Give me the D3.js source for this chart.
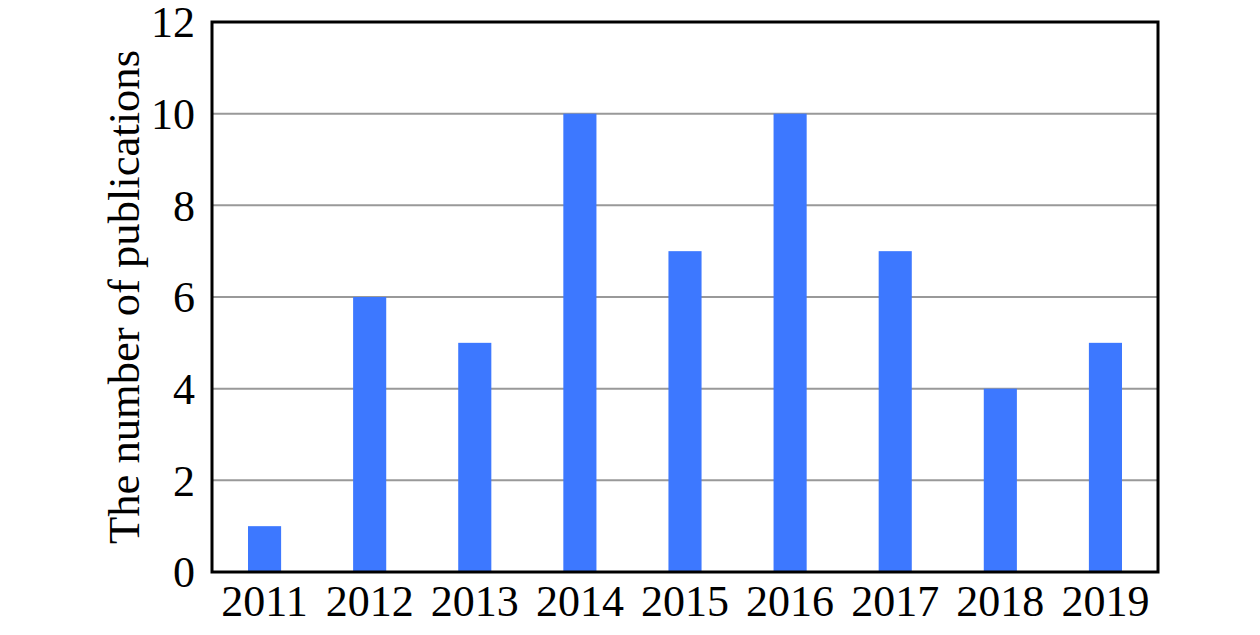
<!DOCTYPE html>
<html>
<head>
<meta charset="utf-8">
<script src="https://cdn.jsdelivr.net/npm/d3@7"></script>
<style>
  body { margin: 0; background: #fff; }
  text { font-family: "Liberation Serif", "Times New Roman", serif; fill: #000; }
</style>
</head>
<body>
<svg id="chart" width="1260" height="635"></svg>
<script>
const YEARS = ['2011', '2012', '2013', '2014', '2015', '2016', '2017', '2018', '2019'];
const COUNTS = [1, 6, 5, 10, 7, 10, 7, 4, 5];
const Y_TICKS = [0, 2, 4, 6, 8, 10, 12];

const margin = { top: 22, right: 102, bottom: 63, left: 212 };
const width = 1260;
const height = 635;
const innerW = width - margin.left - margin.right;
const innerH = height - margin.top - margin.bottom;
const FONT = 44;

const svg = d3.select('#chart');
const g = svg.append('g').attr('transform', `translate(${margin.left},${margin.top})`);

const x = d3.scaleBand()
  .domain(YEARS)
  .range([0, innerW])
  .paddingInner(0.685)
  .paddingOuter(0.3425);

const y = d3.scaleLinear().domain([0, 12]).range([innerH, 0]);

// gridlines
g.selectAll('line.grid')
  .data(Y_TICKS.filter(d => d > 0 && d < 12))
  .enter()
  .append('line')
  .attr('class', 'grid')
  .attr('x1', 0)
  .attr('x2', innerW)
  .attr('y1', d => y(d))
  .attr('y2', d => y(d))
  .attr('stroke', '#999')
  .attr('stroke-width', 2);

// bars
g.selectAll('rect.bar')
  .data(COUNTS)
  .enter()
  .append('rect')
  .attr('class', 'bar')
  .attr('x', (d, i) => x(YEARS[i]))
  .attr('width', x.bandwidth())
  .attr('y', d => y(d))
  .attr('height', d => innerH - y(d))
  .attr('fill', '#3d78ff');

// frame
g.append('rect')
  .attr('x', 0)
  .attr('y', 0)
  .attr('width', innerW)
  .attr('height', innerH)
  .attr('fill', 'none')
  .attr('stroke', '#000')
  .attr('stroke-width', 3);

// axes
const yAxis = g.append('g')
  .call(d3.axisLeft(y).tickValues(Y_TICKS).tickSize(0).tickPadding(17));
yAxis.select('.domain').remove();
yAxis.selectAll('text')
  .attr('font-size', FONT)
  .attr('font-family', '"Liberation Serif", serif')
  .attr('dy', '0.34em');

const xAxis = g.append('g')
  .attr('transform', `translate(0,${innerH})`)
  .call(d3.axisBottom(x).tickSize(0).tickPadding(13));
xAxis.select('.domain').remove();
xAxis.selectAll('text')
  .attr('font-size', FONT)
  .attr('font-family', '"Liberation Serif", serif')
  .attr('dy', '0.71em');

// y label
svg.append('text')
  .attr('transform', `translate(139,297) rotate(-90)`)
  .attr('text-anchor', 'middle')
  .attr('font-size', FONT)
  .attr('textLength', 494)
  .attr('lengthAdjust', 'spacingAndGlyphs')
  .text('The number of publications');
</script>
</body>
</html>
